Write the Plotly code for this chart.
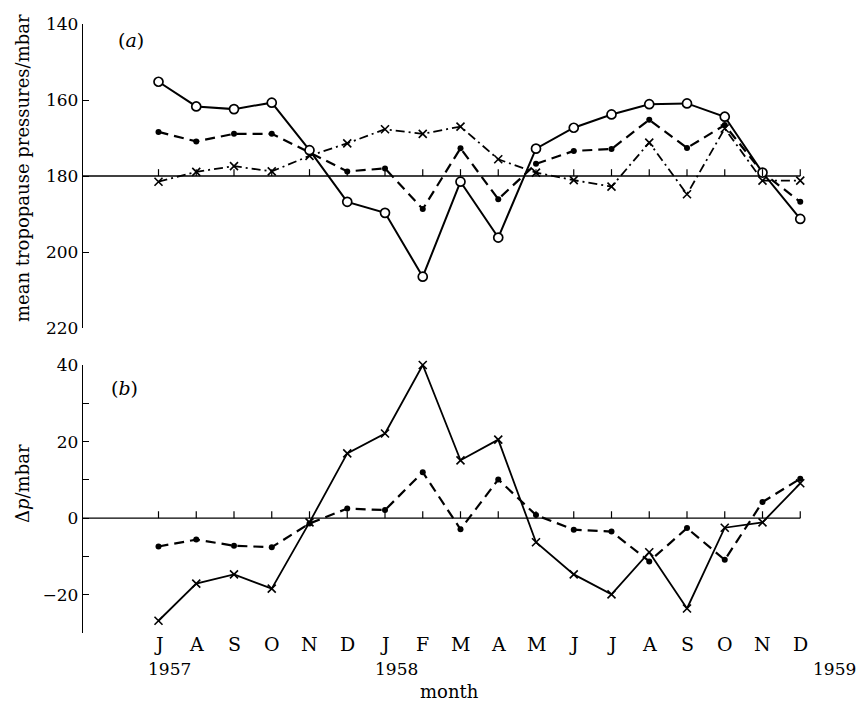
import plotly.graph_objects as go

months = ["J", "A", "S", "O", "N", "D", "J", "F", "M", "A", "M", "J", "J", "A", "S", "O", "N", "D"]
years = ["1957", "1958", "1959"]
year_pos = [0.3, 6.3, 17.9]

# panel (a): mean tropopause pressures (mbar)
a_open = [155.2, 161.7, 162.4, 160.7, 173.2, 186.8, 189.7, 206.5, 181.5,
          196.2, 172.8, 167.3, 163.8, 161.1, 160.9, 164.4, 179.1, 191.3]
a_dot = [168.4, 170.9, 168.9, 168.9, 173.8, 178.8, 178.0, 188.7, 172.7,
         186.1, 176.8, 173.4, 172.9, 165.2, 172.6, 166.6, 179.1, 186.8]
a_cross = [181.5, 178.9, 177.4, 178.8, 174.7, 171.4, 167.7, 168.9, 167.0,
           175.6, 179.1, 181.1, 182.8, 171.2, 184.8, 167.5, 181.2, 181.2]

# panel (b): delta p (mbar)
b_cross = [-26.8, -17.1, -14.7, -18.4, -1.1, 16.9, 22.1, 40.0, 15.1,
           20.5, -6.3, -14.7, -19.9, -8.9, -23.6, -2.5, -1.1, 9.1]
b_dot = [-7.4, -5.6, -7.2, -7.6, -1.4, 2.5, 2.1, 12.0, -2.9,
         10.1, 0.8, -3.0, -3.5, -11.3, -2.6, -10.9, 4.2, 10.3]

x = list(range(len(months)))
FONT = "DejaVu Serif"
BLK = "black"

fig = go.Figure()

def add(xx, yy, xa, ya, dash, symbol, size, lw, mlw, fill):
    fig.add_trace(go.Scatter(
        x=xx, y=yy, xaxis=xa, yaxis=ya, mode="lines+markers",
        line=dict(color=BLK, width=lw, dash=dash),
        marker=dict(symbol=symbol, size=size, color=fill,
                    line=dict(color=BLK, width=mlw)),
        cliponaxis=False, showlegend=False))

# reference lines (180 mbar and 0)
fig.add_trace(go.Scatter(x=[-2, x[-1]], y=[180, 180], xaxis="x", yaxis="y",
                         mode="lines", line=dict(color=BLK, width=1.4),
                         showlegend=False, hoverinfo="skip"))
fig.add_trace(go.Scatter(x=[-2, x[-1]], y=[0, 0], xaxis="x2", yaxis="y2",
                         mode="lines", line=dict(color=BLK, width=1.4),
                         showlegend=False, hoverinfo="skip"))

add(x, a_cross, "x", "y", "9px,4px,2px,4px", "x-thin-open", 8, 1.8, 1.6, BLK)
add(x, a_dot, "x", "y", "10px,6px", "circle", 6, 2.2, 0, BLK)
add(x, a_open, "x", "y", "solid", "circle", 9, 2.0, 1.7, "white")

add(x, b_dot, "x2", "y2", "10px,6px", "circle", 6, 2.2, 0, BLK)
add(x, b_cross, "x2", "y2", "solid", "x-thin-open", 8, 1.8, 1.6, BLK)

shapes = []
for i in x:
    shapes.append(dict(type="line", xref="x", yref="y", x0=i, x1=i, y0=180, y1=178.2,
                       line=dict(color=BLK, width=1.2)))
    shapes.append(dict(type="line", xref="x2", yref="y2", x0=i, x1=i, y0=0, y1=1.8,
                       line=dict(color=BLK, width=1.2)))

L, R, T, B = 83, 22, 24, 76
W, H = 860, 709
pw, ph = W - L - R, H - T - B

def py(p):
    return (H - B - p) / ph

def px(p):
    return (p - L) / pw

annotations = []
for i, m in enumerate(months):
    annotations.append(dict(text=m, x=i, xref="x2", y=py(644), yref="paper",
                            showarrow=False, xanchor="center", yanchor="middle",
                            font=dict(family=FONT, size=19, color=BLK)))
for yr, p in zip(years, year_pos):
    annotations.append(dict(text=yr, x=p, xref="x2", y=py(669), yref="paper",
                            showarrow=False, xanchor="center", yanchor="middle",
                            font=dict(family=FONT, size=17, color=BLK)))
annotations += [
    dict(text="month", x=7.7, xref="x2", y=py(691), yref="paper", showarrow=False,
         xanchor="center", yanchor="middle", font=dict(family=FONT, size=18, color=BLK)),
    dict(text="(<i>a</i>)", x=px(131), xref="paper", y=py(40), yref="paper", showarrow=False,
         xanchor="center", yanchor="middle", font=dict(family=FONT, size=19, color=BLK)),
    dict(text="(<i>b</i>)", x=px(124), xref="paper", y=py(388), yref="paper", showarrow=False,
         xanchor="center", yanchor="middle", font=dict(family=FONT, size=19, color=BLK)),
    dict(text="mean tropopause pressures/mbar", x=px(22), xref="paper", y=py(168),
         yref="paper", showarrow=False, textangle=-90, xanchor="center", yanchor="middle",
         font=dict(family=FONT, size=18, color=BLK)),
    dict(text="Δ<i>p</i>/mbar", x=px(22), xref="paper", y=py(484),
         yref="paper", showarrow=False, textangle=-90, xanchor="center", yanchor="middle",
         font=dict(family=FONT, size=18, color=BLK)),
]

top_dom = [(H - B - 328) / ph, 1.0]
bot_dom = [0.0, (H - B - 365) / ph]

yaxis_common = dict(showline=True, linecolor=BLK, linewidth=1.4, ticks="inside",
                    ticklen=6, tickwidth=1.3, tickcolor=BLK, showgrid=False, zeroline=False,
                    tickfont=dict(family=FONT, size=17, color=BLK))

fig.update_layout(
    width=W, height=H,
    margin=dict(l=L, r=R, t=T, b=B),
    paper_bgcolor="white", plot_bgcolor="white",
    xaxis=dict(domain=[0, 1], range=[-2, 18], anchor="y", visible=False),
    xaxis2=dict(domain=[0, 1], range=[-2, 18], anchor="y2", visible=False, matches="x"),
    yaxis=dict(domain=top_dom, range=[220, 140], tickvals=[140, 160, 180, 200, 220],
               ticktext=["140", "160", "180", "200", "220"], **yaxis_common),
    yaxis2=dict(domain=bot_dom, range=[-30, 40], tickvals=[-30, -20, -10, 0, 10, 20, 30, 40],
                ticktext=["", "\u221220", "", "0", "", "20", "", "40"], **yaxis_common),
    shapes=shapes, annotations=annotations,
)

fig.write_html("out.html")
